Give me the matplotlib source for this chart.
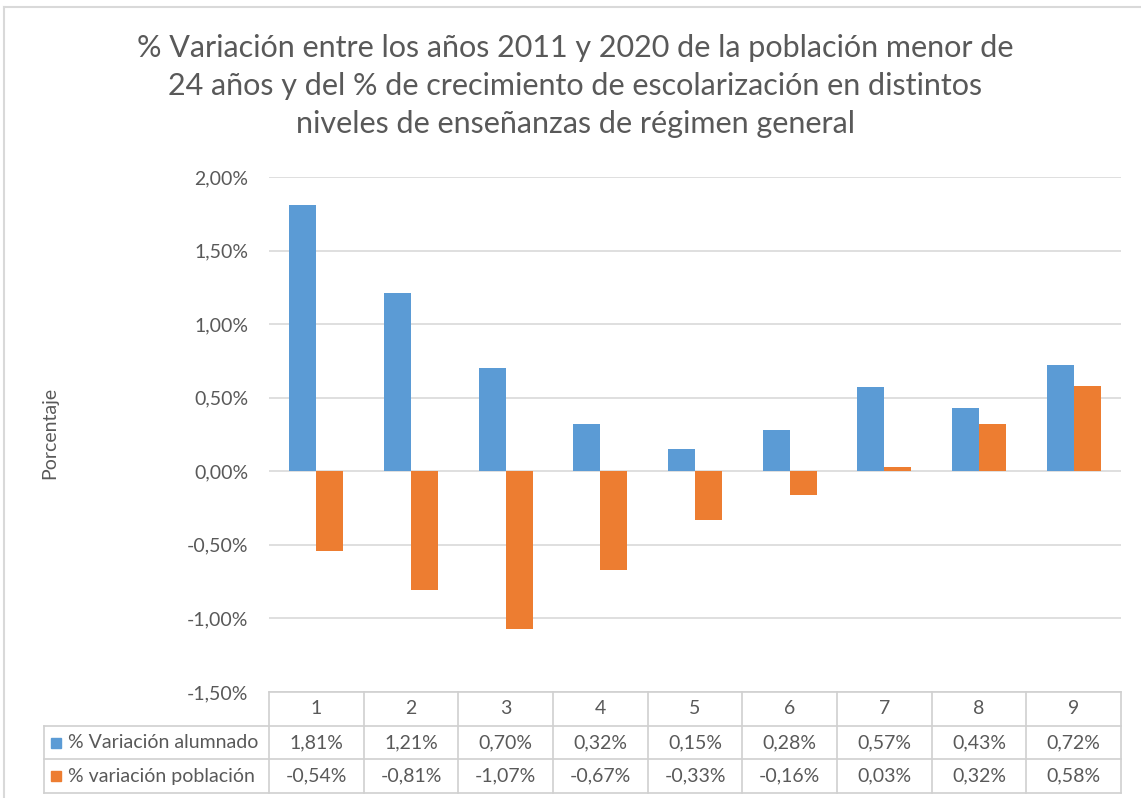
import matplotlib
matplotlib.use("Agg")
from matplotlib import pyplot as plt
from matplotlib.lines import Line2D

categories = ["1", "2", "3", "4", "5", "6", "7", "8", "9"]
alumnado = [1.81, 1.21, 0.70, 0.32, 0.15, 0.28, 0.57, 0.43, 0.72]
poblacion = [-0.54, -0.81, -1.07, -0.67, -0.33, -0.16, 0.03, 0.32, 0.58]
series_names = ["% Variación alumnado", "% variación población"]
yticks = [-1.5, -1.0, -0.5, 0.0, 0.5, 1.0, 1.5, 2.0]

title = ("% Variación entre los años 2011 y 2020 de la población menor de\n"
         "24 años y del % de crecimiento de escolarización en distintos\n"
         "niveles de enseñanzas de régimen general")

plt.rcParams['font.family'] = ['Lato', 'DejaVu Sans']
txt = "#595959"
grid = "#D9D9D9"
blue = "#5B9BD5"
orange = "#ED7D31"
fs = 14

W, H = 1141, 798
fig = plt.figure(figsize=(W / 100, H / 100), dpi=100)

def px(x0, y_top, x1, y_bot):
    return [x0 / W, 1 - y_bot / H, (x1 - x0) / W, (y_bot - y_top) / H]

# chart border (only left / top visible)
fig.add_artist(Line2D([4 / W, 4 / W], [0, 1 - 7 / H], transform=fig.transFigure, color=grid, lw=1.5))
fig.add_artist(Line2D([4 / W, 1], [1 - 7 / H, 1 - 7 / H], transform=fig.transFigure, color=grid, lw=1.5))

fig.text(575 / W, 1 - 86 / H, title, ha="center", va="center", fontsize=22,
         color=txt, linespacing=1.45)

ax = fig.add_axes(px(269, 177, 1121, 692))
x = list(range(1, len(categories) + 1))
w = 1 / 3.5
ax.bar([i - w / 2 for i in x], alumnado, width=w, color=blue, zorder=3)
ax.bar([i + w / 2 for i in x], poblacion, width=w, color=orange, zorder=3)
ax.set_xlim(0.5, len(categories) + 0.5)
ax.set_ylim(-1.5, 2.0)
ax.set_yticks(yticks)
ax.set_yticklabels([f"{v:.2f}".replace(".", ",") + "%" for v in yticks])
ax.set_xticks([])
ax.tick_params(axis="y", length=0, pad=15, labelsize=fs, labelcolor=txt)
ax.yaxis.grid(True, color=grid, lw=1.2, zorder=0)
for s in ax.spines.values():
    s.set_visible(False)
fig.text(50 / W, 1 - 433 / H, "Porcentaje", rotation=90, ha="center", va="center",
         fontsize=fs, color=txt)

# data table
tab = fig.add_axes(px(269, 692, 1121, 793))
tab.set_xlim(0.5, len(categories) + 0.5)
tab.set_ylim(3, 0)
tab.axis("off")
lc = "#D0D0D0"
left = -(269 - 44) / 852
ytr = tab.get_yaxis_transform()
tab.plot([0.5, len(categories) + 0.5], [0, 0], color=lc, lw=1.2, clip_on=False)
for r in (1, 2, 3):
    tab.plot([left, 1], [r, r], color=lc, lw=1.2, transform=ytr, clip_on=False)
tab.plot([left, left], [1, 3], color=lc, lw=1.2, transform=ytr, clip_on=False)
for i in range(len(categories) + 1):
    tab.plot([0.5 + i, 0.5 + i], [0, 3], color=lc, lw=1.2, clip_on=False)

for i, c in enumerate(categories):
    tab.text(x[i], 0.5, c, ha="center", va="center", fontsize=fs, color=txt)
    tab.text(x[i], 1.5, f"{alumnado[i]:.2f}".replace(".", ",") + "%",
             ha="center", va="center", fontsize=fs, color=txt)
    tab.text(x[i], 2.5, f"{poblacion[i]:.2f}".replace(".", ",") + "%",
             ha="center", va="center", fontsize=fs, color=txt)

for r, (name, col) in enumerate(zip(series_names, [blue, orange])):
    tab.plot([(56 - 269) / 852], [1.5 + r], marker="s", ms=6.5, color=col,
             transform=ytr, clip_on=False, lw=0)
    tab.text((68 - 269) / 852, 1.5 + r, name, ha="left", va="center",
             fontsize=fs, color=txt, transform=ytr)

plt.savefig("out.png", dpi=100)
